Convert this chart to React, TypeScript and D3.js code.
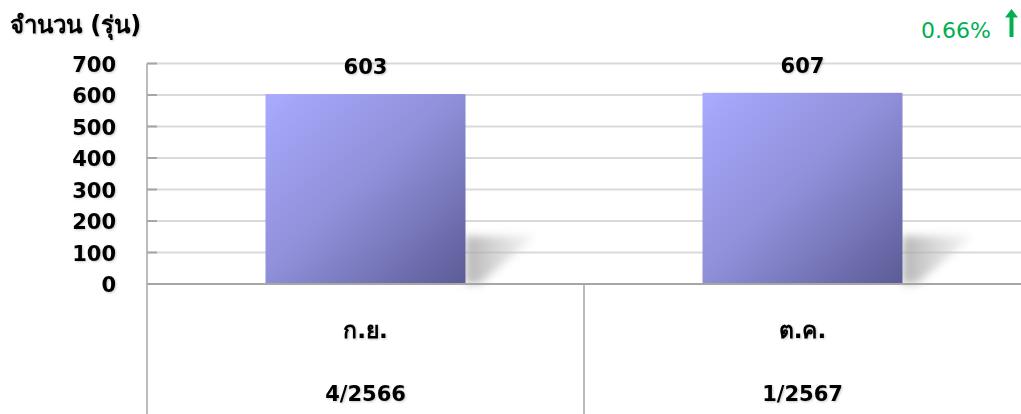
import React from "react";
import * as d3 from "d3";

const categories = ["ก.ย.", "ต.ค."];
const periods = ["4/2566", "1/2567"];
const values = [603, 607];
const yTicks = [0, 100, 200, 300, 400, 500, 600, 700];
const changeLabel = "0.66%";
const yTitle = "จำนวน (รุ่น)";

const W = 1021;
const H = 414;
const left = 147;
const right = 1021;
const top = 63.5;
const bottom = 284;

export default function App() {
  const x = d3.scaleBand<string>().domain(categories).range([left, 1021]).paddingInner(0).paddingOuter(0);
  const y = d3.scaleLinear().domain([0, 700]).range([bottom, top]);
  const barW = 200;
  const font = "'DejaVu Sans', 'Noto Sans', sans-serif";
  return (
    <svg width={W} height={H} style={{ position: "absolute", left: 0, top: 0 }} fontFamily={font}>
      <defs>
        <linearGradient id="barg" x1="0" y1="0" x2="1" y2="1">
          <stop offset="0" stopColor="#aaaaff" />
          <stop offset="0.5" stopColor="#8e8ed8" />
          <stop offset="1" stopColor="#5b5b96" />
        </linearGradient>
        <linearGradient id="shg" x1="0" y1="0" x2="1" y2="0">
          <stop offset="0" stopColor="#a8a8a8" stopOpacity="0.85" />
          <stop offset="1" stopColor="#d0d0d0" stopOpacity="0.25" />
        </linearGradient>
        <filter id="blur" x="-20%" y="-20%" width="140%" height="140%">
          <feGaussianBlur stdDeviation="4" />
        </filter>
        <filter id="ts" x="-10%" y="-10%" width="120%" height="130%">
          <feDropShadow dx="1" dy="1" stdDeviation="0.8" floodColor="#000" floodOpacity="0.22" />
        </filter>
      </defs>
      {yTicks.filter((t) => t > 0).map((t) => (
        <line key={t} x1={left} x2={right} y1={y(t)} y2={y(t)} stroke="#d9d9d9" strokeWidth={2} />
      ))}
      {yTicks.map((t) => (
        <line key={"k" + t} x1={left} x2={left + 10} y1={y(t)} y2={y(t)} stroke="#a6a6a6" strokeWidth={2} />
      ))}
      {categories.map((c) => {
        const bx = (x(c) as number) + x.bandwidth() / 2 + barW / 2;
        return (
          <polygon
            key={"s" + c}
            points={`${bx},${bottom - 48} ${bx + 70},${bottom - 48} ${bx + 14},${bottom} ${bx},${bottom}`}
            fill="url(#shg)"
            filter="url(#blur)"
          />
        );
      })}
      {categories.map((c, i) => {
        const cx = (x(c) as number) + x.bandwidth() / 2;
        return (
          <g key={c}>
            <rect x={cx - barW / 2} y={y(values[i])} width={barW} height={bottom - y(values[i])} fill="url(#barg)" />
            <text x={cx} y={y(values[i]) - 20} textAnchor="middle" fontSize={21} fontWeight="bold" fill="#000" filter="url(#ts)">
              {values[i]}
            </text>
            <text x={cx} y={338} textAnchor="middle" fontSize={23} fontWeight="bold" fill="#000" filter="url(#ts)">
              {c}
            </text>
            <text x={cx} y={401} textAnchor="middle" fontSize={21} fontWeight="bold" fill="#000" filter="url(#ts)">
              {periods[i]}
            </text>
          </g>
        );
      })}
      <line x1={left} x2={left} y1={top} y2={H} stroke="#a6a6a6" strokeWidth={1.5} />
      <line x1={left} x2={right} y1={bottom} y2={bottom} stroke="#a6a6a6" strokeWidth={2} />
      <line x1={x(categories[1]) as number} x2={x(categories[1]) as number} y1={bottom} y2={H} stroke="#a6a6a6" strokeWidth={1.5} />
      {yTicks.map((t) => (
        <text key={"l" + t} x={116} y={y(t) + 8} textAnchor="end" fontSize={21} fontWeight="bold" fill="#000" filter="url(#ts)">
          {t}
        </text>
      ))}
      <text x={10} y={33} fontSize={24} fontWeight="bold" fill="#000" filter="url(#ts)">
        {yTitle}
      </text>
      <text x={991} y={38} textAnchor="end" fontSize={22} fill="#00b050">
        {changeLabel}
      </text>
      <g fill="#00b050">
        <rect x={1009.5} y={15} width={4} height={22} />
        <polygon points="1005,17.5 1011.5,9 1018,17.5" />
      </g>
    </svg>
  );
}
